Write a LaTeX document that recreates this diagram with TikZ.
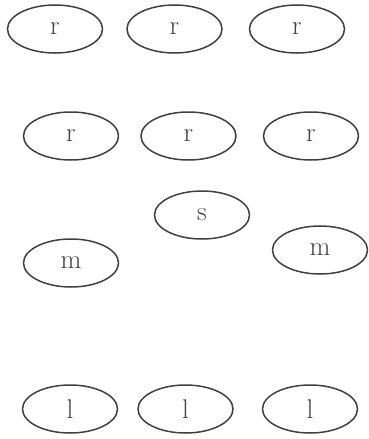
\documentclass[tikz,border=0pt]{standalone}
\usetikzlibrary{positioning,shapes.geometric}
\tikzset{
  blob/.style={
    ellipse, draw=black!75, line width=1.5pt,
    minimum width=95pt, minimum height=48pt,
    inner sep=0pt, text=black!75,
    font=\fontsize{27}{30}\selectfont
  }
}
\begin{document}
\begin{tikzpicture}[x=1pt, y=-1pt, node distance=24pt and 23pt]
  \useasboundingbox (0,0) rectangle (368,439);

  % --- top row
  \node[blob] at (55,29)              (rA) {r};
  \node[blob, right=of rA]            (rB) {r};
  \node[blob, right=26pt of rB]       (rC) {r};

  % --- second row
  \node[blob] at (71,136)             (rD) {r};
  \node[blob, right=21pt of rD]       (rE) {r};
  \node[blob, right=26pt of rE]       (rF) {r};

  % --- middle
  \node[blob] at (202,215)            (s)  {s};
  \node[blob] at (71,263)             (mL) {m};
  \node[blob] at (320,250)            (mR) {m};

  % --- bottom row
  \node[blob] at (70,409)             (lA) {l};
  \node[blob, right=19pt of lA]       (lB) {l};
  \node[blob, right=28pt of lB]       (lC) {l};
\end{tikzpicture}
\end{document}
